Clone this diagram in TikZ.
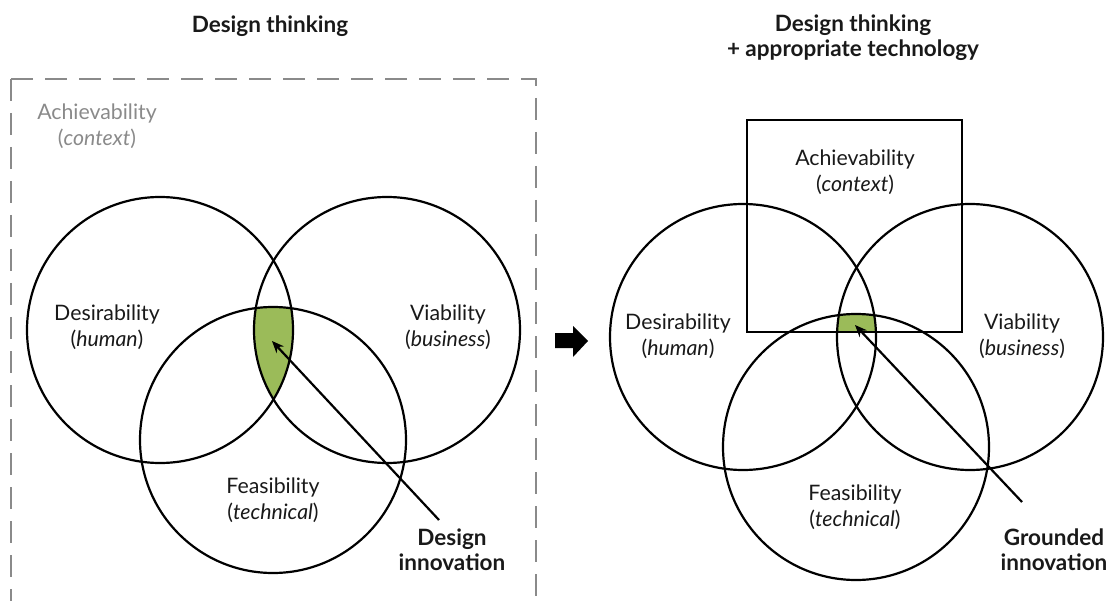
\documentclass[tikz,border=0pt]{standalone}
\usepackage{fontspec}
\setmainfont{Lato}
\usetikzlibrary{arrows.meta}
\definecolor{lgreen}{HTML}{9BBB59}
\definecolor{boxgray}{HTML}{8A8A8A}
\begin{document}
\begin{tikzpicture}[x=1pt,y=-1pt,
  ring/.style={circle,draw=black,line width=2.2pt,minimum size=266pt,inner sep=0pt},
  lab/.style={align=center,font=\fontsize{21.3}{26}\selectfont,text=black!90},
  glab/.style={align=center,font=\fontsize{21.3}{26}\selectfont,text=boxgray},
  ttl/.style={align=center,font=\fontsize{22.5}{25}\selectfont\bfseries,text=black!90},
  pointer/.style={line width=2.2pt,-{Stealth[length=12pt,width=10pt]}},
  dbox/.style={draw=boxgray,line width=2pt,dash pattern=on 22pt off 12pt}]
\useasboundingbox (0,0) rectangle (1110,601);
\clip (0,0) rectangle (1110,601);
% ---------- left diagram ----------
\coordinate (LD) at (160,330);
\coordinate (LV) at (387,330);
\coordinate (LF) at (273,440);
\begin{scope}
  \clip (LD) circle[radius=133pt];
  \clip (LV) circle[radius=133pt];
  \fill[lgreen] (LF) circle[radius=133pt];
\end{scope}
\node[ring] (cLD) at (LD) {};
\node[ring] (cLV) at (LV) {};
\node[ring] (cLF) at (LF) {};
% dashed context box (open at bottom)
\coordinate (bxtl) at (11,79);
\coordinate (bxtr) at (536,79);
\coordinate (bxbl) at (11,640);
\coordinate (bxbr) at (536,640);
\draw[dbox] (bxtl) -- (bxbl);
\draw[dbox] (bxtl) -- (bxtr) -- (bxbr);
\node[glab] (achL) at (97,126) {Achievability\\(\textit{context})};
\node[lab] (desL) at (107,327) {Desirability\\(\textit{human})};
\node[lab] (viaL) at (448,327) {Viability\\(\textit{business})};
\node[lab] (feaL) at (273,500) {Feasibility\\(\textit{technical})};
\node[ttl] (tL) at (270,26) {Design thinking};
\node[ttl] (innL) at (452,550) {Design\\innovation};
\coordinate (aLs) at (439,520);
\coordinate (aLe) at (272,341);
\draw[pointer] (aLs) -- (aLe);
% ---------- block arrow ----------
\fill[black] (555,333) -- (573,333) -- (573,326) -- (588,341) -- (573,357) -- (573,348) -- (555,348) -- cycle;
% ---------- right diagram ----------
\coordinate (RD) at (743,337);
\coordinate (RV) at (970,337);
\coordinate (RF) at (856,447);
\begin{scope}
  \clip (RD) circle[radius=133pt];
  \clip (RV) circle[radius=133pt];
  \clip (RF) circle[radius=133pt];
  \fill[lgreen] (747,120) rectangle (962,332);
\end{scope}
\node[ring] (cRD) at (RD) {};
\node[ring] (cRV) at (RV) {};
\node[ring] (cRF) at (RF) {};
\node[draw=black,line width=2.2pt,minimum width=215pt,minimum height=212pt,inner sep=0pt] (ctx) at (854.5,226) {};
\node[lab] (achR) at (855,172) {Achievability\\(\textit{context})};
\node[lab] (desR) at (678,336) {Desirability\\(\textit{human})};
\node[lab] (viaR) at (1022,336) {Viability\\(\textit{business})};
\node[lab] (feaR) at (855,507) {Feasibility\\(\textit{technical})};
\node[ttl] (tR) at (853,38) {Design thinking\\+ appropriate technology};
\node[ttl] (innR) at (1054,550) {Grounded\\innovation};
\coordinate (aRs) at (1022,502);
\coordinate (aRe) at (855,325);
\draw[pointer] (aRs) -- (aRe);
\end{tikzpicture}
\end{document}
